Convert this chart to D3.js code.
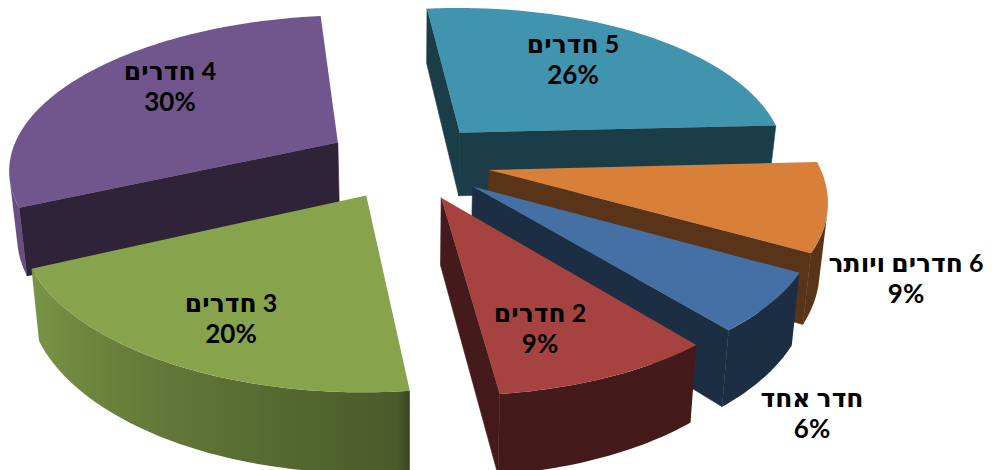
<!DOCTYPE html>
<html lang="he">
<head>
<meta charset="utf-8">
<script src="https://cdn.jsdelivr.net/npm/d3@7"></script>
<style>
  html, body { margin: 0; background: #fff; }
  text { font-family: Lato, "DejaVu Sans", sans-serif; font-weight: bold; fill: #000; direction: rtl; text-anchor: middle; }
</style>
</head>
<body>
<script>
// Share of dwellings by number of rooms, clockwise from the top of the pie
const categories = ["5 חדרים", "6 חדרים ויותר", "חדר אחד", "2 חדרים", "3 חדרים", "4 חדרים"];
const shares = [26, 9, 6, 9, 20, 30];
const sliceColors = ["#4094ae", "#d8803a", "#4570a6", "#a64340", "#87a44c", "#70568c"];

// Baseline of the name line for each slice label; the percentage sits one line below
const labelAnchors = [[573, 53], [906, 272], [812, 407], [540, 322], [231, 312], [170, 80]];

const width = 995, height = 470;
const firstAngle = -6.5 * Math.PI / 180;
const explode = 0.25;
const view = { cx: 408, cy: 161, rx: 329, ry: 153, tilt: 0.16, skew: 4, depth: 65, converge: 0.02 };

const svg = d3.select("body").append("svg").attr("width", width).attr("height", height)
  .style("display", "block");
const defs = svg.append("defs");

const pie = d3.pie().sort(null).startAngle(firstAngle).endAngle(firstAngle + 2 * Math.PI);
const arcs = pie(shares);

// Perspective projection of a point on the pie's top plane
function topPoint(U, V) {
  const p = 1 / (1 - view.tilt * V);
  return [view.cx + view.rx * U * p + view.skew * V * V, view.cy + view.ry * V * p];
}
// The same point on the underside: lower, and drawn slightly toward the centre line
function bottomPoint(U, V) {
  const p = 1 / (1 - view.tilt * V);
  const [x, y] = topPoint(U, V);
  return [view.cx + (x - view.cx) * (1 - view.converge), y + view.depth * p];
}

// Wall brightness by angle around the rim
const rimShade = d3.scaleLinear().domain([0, 173.6, 175, 246, 360]).range([0.41, 0.41, 0.55, 0.92, 0.92]);
const flatShade = 0.41;
const shade = (color, k) => {
  const c = d3.rgb(color);
  return d3.rgb(c.r * k, c.g * k, c.b * k).formatHex();
};

const polygon = d3.line();
// Winding test: faces are listed so that a positive area means they look toward the viewer
const facesViewer = pts => d3.polygonArea(pts) > 0;

const slices = arcs.map((d, i) => {
  const mid = (d.startAngle + d.endAngle) / 2;
  return {
    index: i, a0: d.startAngle, a1: d.endAngle, color: sliceColors[i],
    ox: explode * Math.sin(mid), oy: -explode * Math.cos(mid)
  };
}).sort((a, b) => a.oy - b.oy);

const groups = svg.selectAll("g.slice").data(slices).join("g").attr("class", "slice");

groups.each(function (s) {
  const g = d3.select(this);
  const rim = a => [s.ox + Math.sin(a), s.oy - Math.cos(a)];
  const steps = Math.max(12, Math.round((s.a1 - s.a0) * 60));
  const angles = d3.range(steps + 1).map(j => s.a0 + (s.a1 - s.a0) * j / steps);
  const face = (pts, fill) => {
    if (!facesViewer(pts)) return;
    g.append("path").attr("d", polygon(pts) + "Z").attr("fill", fill)
      .attr("stroke", fill).attr("stroke-width", 0.6);
  };

  // Cut faces running from the apex out to each end of the rim
  const apex = [s.ox, s.oy];
  const start = rim(s.a0), end = rim(s.a1);
  const wall = shade(s.color, flatShade);
  face([topPoint(...apex), topPoint(...start), bottomPoint(...start), bottomPoint(...apex)], wall);
  face([topPoint(...end), topPoint(...apex), bottomPoint(...apex), bottomPoint(...end)], wall);

  // Rim wall: the camera-facing run of angles becomes one path with a horizontal gradient
  const visible = angles.filter((a, j) => {
    const b = angles[Math.min(j + 1, steps)], c = angles[Math.max(j - 1, 0)];
    const quad = (p, q) => [topPoint(...rim(p)), topPoint(...rim(q)), bottomPoint(...rim(q)), bottomPoint(...rim(p))];
    return (b !== a && facesViewer(quad(a, b))) || (c !== a && facesViewer(quad(c, a)));
  });
  if (visible.length > 1) {
    const tops = visible.map(a => topPoint(...rim(a)));
    const bottoms = visible.map(a => bottomPoint(...rim(a)));
    const xs = tops.map(t => t[0]);
    const [x0, x1] = d3.extent(xs);
    const id = "rim" + s.index;
    const grad = defs.append("linearGradient").attr("id", id)
      .attr("gradientUnits", "userSpaceOnUse")
      .attr("x1", x0).attr("x2", x1).attr("y1", 0).attr("y2", 0);
    visible.map((a, j) => ({ at: (xs[j] - x0) / (x1 - x0 || 1), a }))
      .sort((m, n) => m.at - n.at)
      .forEach(m => {
        const deg = (m.a * 180 / Math.PI + 360) % 360;
        grad.append("stop").attr("offset", m.at).attr("stop-color", shade(s.color, rimShade(deg)));
      });
    g.append("path").attr("d", polygon([...tops, ...bottoms.reverse()]) + "Z")
      .attr("fill", `url(#${id})`);
  }

  // Top surface
  const outline = [topPoint(...apex), ...angles.map(a => topPoint(...rim(a)))];
  g.append("path").attr("d", polygon(outline) + "Z").attr("fill", s.color);
});

// Labels: room count on the first line, share on the second
const labels = svg.selectAll("g.label").data(arcs).join("g").attr("class", "label")
  .attr("transform", (d, i) => `translate(${labelAnchors[i]})`);
labels.append("text").attr("font-size", 25)
  .text((d, i) => categories[i]);
labels.append("text").attr("y", 31).attr("font-size", 26)
  .style("direction", "ltr")
  .text(d => d.data + "%");
</script>
</body>
</html>
